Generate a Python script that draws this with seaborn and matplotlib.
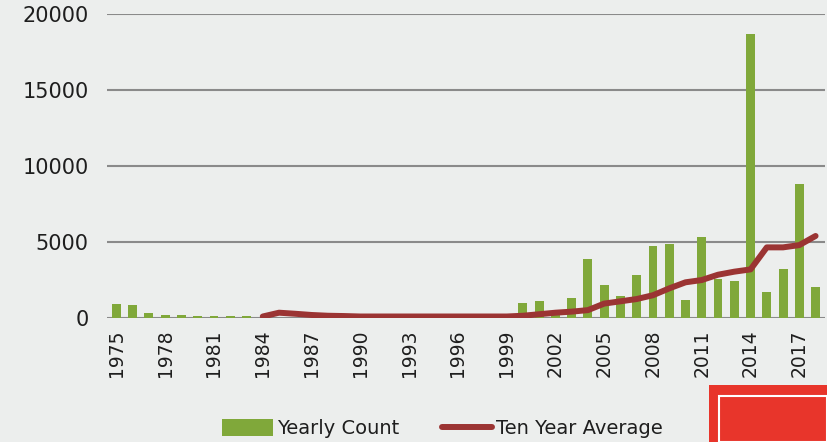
import numpy as np
import pandas as pd
import matplotlib.pyplot as plt
import seaborn as sns
from matplotlib.patches import Rectangle

# Data
years = list(range(1975, 2019))
yearly_count = [950, 880, 300, 200, 200, 140, 140, 140, 140,
                0, 0, 0, 0, 0, 0, 0, 0, 0, 0, 0, 0, 0, 0, 0, 0,
                1000, 1150, 200, 1300, 3880, 2200, 1450, 2800, 4740, 4900,
                1180, 5330, 2600, 2450, 18680, 1690, 3220, 8800, 2040]
ten_year_avg = [np.nan] * 9 + [
    100, 350, 280, 200, 150, 130, 100, 100, 100, 100, 100, 100, 100, 100, 100, 100,
    150, 250, 350, 420, 520, 950, 1100, 1250, 1500, 1950,
    2350, 2500, 2850, 3050, 3200, 4650, 4650, 4800, 5400]
tick_years = list(range(1975, 2019, 3))

df = pd.DataFrame({"Year": [str(y) for y in years],
                   "pos": np.arange(len(years)),
                   "Yearly Count": yearly_count,
                   "Ten Year Average": ten_year_avg})

sns.set_style("white")
plt.rcParams["font.family"] = ["DejaVu Sans"]

bg = "#eceeed"
txt = "#1e1e1e"
fig = plt.figure(figsize=(8.27, 4.42), dpi=100, facecolor=bg)
ax = fig.add_axes([0.129, 0.2805, 0.868, 0.6875], facecolor=bg)

sns.barplot(data=df, x="Year", y="Yearly Count", color="#80a83a",
            saturation=1, width=0.55, ax=ax, zorder=2, label="Yearly Count",
            linewidth=0, edgecolor="none")
sns.lineplot(data=df, x="pos", y="Ten Year Average", color="#9b3433",
             linewidth=4.3, ax=ax, zorder=3, label="Ten Year Average")

ax.set_ylim(0, 20000)
ax.set_xlim(-0.6, len(years) - 0.45)
ax.set_yticks([0, 5000, 10000, 15000, 20000])
ax.set_yticklabels(["0", "5000", "10000", "15000", "20000"], fontsize=15, color=txt)
ax.set_xticks([years.index(y) for y in tick_years])
ax.set_xticklabels([str(y) for y in tick_years], rotation=90, fontsize=13.5, color=txt)
ax.tick_params(axis="y", length=0, pad=13)
ax.tick_params(axis="x", length=0, pad=8)
ax.set_xlabel("")
ax.set_ylabel("")
ax.grid(axis="y", color="#8a8a8a", linewidth=1.5, zorder=1)
ax.set_axisbelow(True)
for s in ax.spines.values():
    s.set_visible(False)

handles, labels = ax.get_legend_handles_labels()
order = [labels.index("Yearly Count"), labels.index("Ten Year Average")]
ax.legend([handles[i] for i in order], [labels[i] for i in order],
          loc="center", bbox_to_anchor=(0.535, 0.03), bbox_transform=fig.transFigure,
          ncol=2, frameon=False, fontsize=14, handlelength=2.6, handleheight=0.9,
          columnspacing=2.2, handletextpad=0.2, borderpad=0, labelcolor=txt)

# logo block in the corner
fig.patches.append(Rectangle((0.857, 0.0), 0.143, 0.13, transform=fig.transFigure,
                             facecolor="#e8352b", edgecolor="none", zorder=5))
fig.patches.append(Rectangle((0.869, 0.0), 0.131, 0.105, transform=fig.transFigure,
                             facecolor="none", edgecolor="white", linewidth=1.5, zorder=6))

fig.savefig("out.png", dpi=100, facecolor=bg)
